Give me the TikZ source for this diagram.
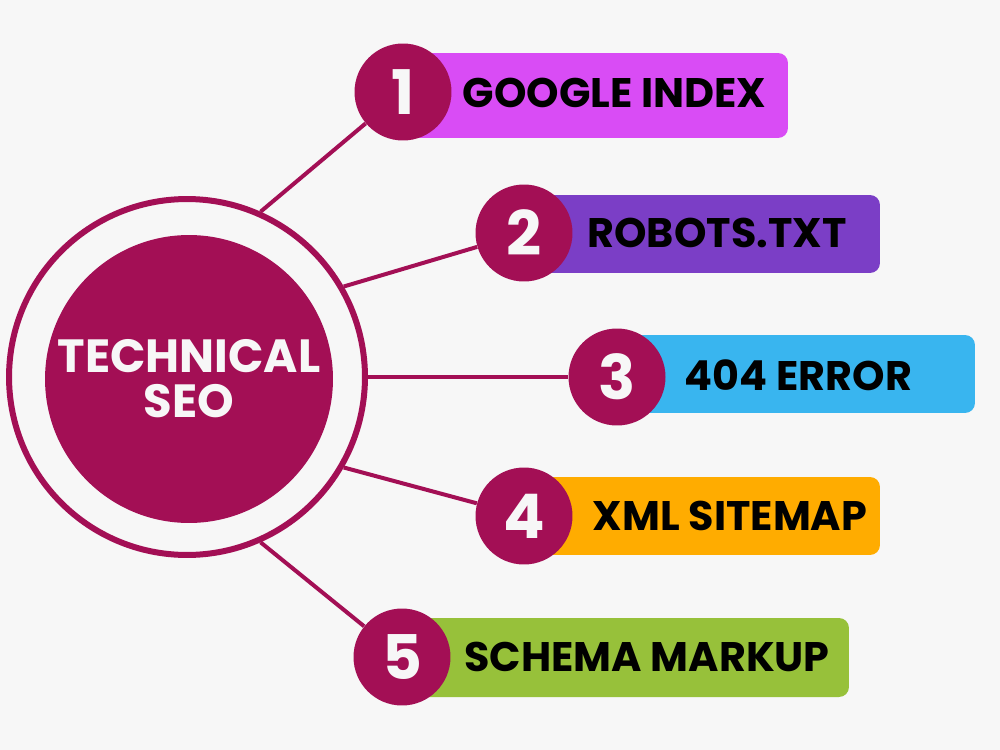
\documentclass[tikz,border=0pt]{standalone}
\usepackage{fontspec}
\setmainfont{Poppins}
\usepackage{tikz}
\usetikzlibrary{positioning}
\definecolor{plum}{RGB}{163,15,85}
\definecolor{paper}{RGB}{247,247,247}
\definecolor{boxa}{RGB}{217,76,245}
\definecolor{boxb}{RGB}{123,62,198}
\definecolor{boxc}{RGB}{57,181,239}
\definecolor{boxd}{RGB}{255,172,0}
\definecolor{boxe}{RGB}{151,193,58}
\begin{document}
\begin{tikzpicture}[x=0.02cm, y=-0.02cm, font=\bfseries]
    \tikzstyle{ring}=[circle, draw=plum, line width=0.12cm, minimum size=7.12cm, inner sep=0pt]
    \tikzstyle{hub}=[circle, fill=plum, text=paper, minimum size=5.76cm, inner sep=0pt, align=center, font=\bfseries\fontsize{26.5}{25.6}\selectfont]
    \tikzstyle{numcirc}=[circle, fill=plum, text=paper, minimum size=1.94cm, inner sep=0pt, font=\bfseries\fontsize{35}{35}\selectfont]
    \tikzstyle{topic}=[rectangle, rounded corners=0.2cm, minimum height=1.56cm]
    \tikzstyle{topictxt}=[text=black, inner sep=0pt, font=\bfseries\fontsize{23.5}{23.5}\selectfont]
    \tikzstyle{spoke}=[draw=plum, line width=0.08cm]
    \fill[paper] (0,0) rectangle (1000,750);
    \useasboundingbox (0,0) rectangle (1000,750);
    % centre
    \node[ring]     (rim)   at (187,377)    {};
    \node[hub]      (seo)   at (189,379)    {TECHNICAL\\SEO};
    % bars
    \node[topic, fill=boxa, minimum width=7.56cm, minimum height=1.7cm] (b1) at (599,95.5) {};
    \node[topic, fill=boxb, minimum width=7.2cm]  (b2) at (700,234)  {};
    \node[topic, fill=boxc, minimum width=7.2cm]  (b3) at (795,374)  {};
    \node[topic, fill=boxd, minimum width=7.2cm]  (b4) at (700,516)  {};
    \node[topic, fill=boxe, minimum width=8.9cm, minimum height=1.58cm] (b5) at (626.5,657.5) {};
    \node[topictxt] (t1) at (614.5,93)  {GOOGLE INDEX};
    \node[topictxt] (t2) at (717,233)   {ROBOTS.TXT};
    \node[topictxt] (t3) at (798.5,375) {404 ERROR};
    \node[topictxt] (t4) at (730,516)   {XML SITEMAP};
    \node[topictxt] (t5) at (647,657)   {SCHEMA MARKUP};
    % numbers
    \node[numcirc]  (n1)    at (403,92)     {1};
    \node[numcirc]  (n2)    at (524,233)    {2};
    \node[numcirc]  (n3)    at (617,377)    {3};
    \node[numcirc]  (n4)    at (524,516)    {4};
    \node[numcirc]  (n5)    at (402,657)    {5};
    \path[spoke]
(rim.66)    edge    (n1)
(rim.30)    edge    (n2)
(rim.0)     edge    (n3)
(rim.-30)   edge    (n4)
(rim.-66)   edge    (n5);
\end{tikzpicture}
\end{document}
